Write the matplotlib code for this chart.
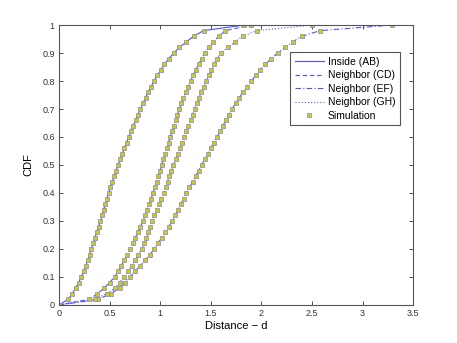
import numpy as np
import matplotlib
matplotlib.use("Agg")
import matplotlib.pyplot as plt

# CDF levels at which simulation quantiles are shown
cdf_levels = [round(0.02 * k, 2) for k in range(51)]

inside_ab = [0.00, 0.09, 0.13, 0.165, 0.195, 0.22, 0.243, 0.264, 0.284, 0.302,
             0.32, 0.338, 0.356, 0.374, 0.392, 0.41, 0.426, 0.442, 0.458, 0.474,
             0.49, 0.508, 0.527, 0.546, 0.565, 0.585, 0.605, 0.626, 0.647, 0.668,
             0.69, 0.712, 0.734, 0.757, 0.781, 0.805, 0.83, 0.856, 0.883, 0.911,
             0.94, 0.972, 1.006, 1.043, 1.085, 1.135, 1.19, 1.26, 1.33, 1.43, 1.83]

neighbor_cd = [0.0, 0.30, 0.38, 0.445, 0.50, 0.55, 0.585, 0.617, 0.647, 0.674,
               0.70, 0.727, 0.754, 0.780, 0.805, 0.83, 0.851, 0.871, 0.891, 0.911,
               0.93, 0.947, 0.964, 0.981, 0.998, 1.015, 1.032, 1.049, 1.066, 1.083,
               1.10, 1.117, 1.135, 1.153, 1.171, 1.19, 1.21, 1.23, 1.252, 1.275,
               1.30, 1.325, 1.352, 1.38, 1.41, 1.44, 1.48, 1.525, 1.58, 1.645, 1.90]

neighbor_ef = [0.0, 0.39, 0.51, 0.60, 0.65, 0.70, 0.752, 0.803, 0.852, 0.90,
               0.94, 0.978, 1.015, 1.05, 1.085, 1.12, 1.148, 1.176, 1.204, 1.232,
               1.26, 1.29, 1.32, 1.35, 1.38, 1.41, 1.44, 1.47, 1.50, 1.53,
               1.56, 1.59, 1.62, 1.65, 1.68, 1.71, 1.745, 1.78, 1.82, 1.86,
               1.90, 1.945, 1.99, 2.04, 2.10, 2.16, 2.235, 2.31, 2.40, 2.58, 3.29]

neighbor_gh = [0.0, 0.355, 0.47, 0.555, 0.60, 0.64, 0.68, 0.717, 0.752, 0.786,
               0.82, 0.843, 0.864, 0.884, 0.90, 0.92, 0.944, 0.967, 0.99, 1.013,
               1.035, 1.054, 1.073, 1.092, 1.111, 1.13, 1.152, 1.174, 1.196, 1.218,
               1.24, 1.26, 1.28, 1.30, 1.32, 1.34, 1.362, 1.384, 1.407, 1.431,
               1.455, 1.48, 1.506, 1.53, 1.56, 1.60, 1.67, 1.74, 1.816, 1.957, 2.50]

labels = ["Inside (AB)", "Neighbor (CD)", "Neighbor (EF)", "Neighbor (GH)"]
xticks = [0, 0.5, 1, 1.5, 2, 2.5, 3, 3.5]
xticklabels = ["0", "0.5", "1", "1.5", "2", "2.5", "3", "3.5"]
yticks = [0, 0.1, 0.2, 0.3, 0.4, 0.5, 0.6, 0.7, 0.8, 0.9, 1.0]
yticklabels = ["0", "0.1", "0.2", "0.3", "0.4", "0.5", "0.6", "0.7", "0.8", "0.9", "1"]

plt.rcParams['font.family'] = ['Liberation Sans', 'DejaVu Sans']

fig = plt.figure(figsize=(4.57, 3.43), dpi=100)
ax = fig.add_axes([0.129, 0.111, 0.775, 0.816])

line_color = '#5050ff'
series = [inside_ab, neighbor_cd, neighbor_ef, neighbor_gh]
styles = ['-', (0, (4, 2.5)), (0, (5, 2, 1, 2)), (0, (1, 1.8))]
for data, lab, ls in zip(series, labels, styles):
    ax.plot(data, cdf_levels, linestyle=ls, color=line_color, lw=0.8, label=lab)

for i, data in enumerate(series):
    ax.plot(data, cdf_levels, linestyle='none', marker='s', markersize=2.2,
            markerfacecolor='#d0d000', markeredgecolor='#8a8ad8', markeredgewidth=0.55,
            label='Simulation' if i == 0 else None)

ax.set_xlim(0, 3.5)
ax.set_ylim(0, 1)
ax.set_xticks(xticks)
ax.set_xticklabels(xticklabels)
ax.set_yticks(yticks)
ax.set_yticklabels(yticklabels)
ax.tick_params(direction='in', length=3, width=0.6, labelsize=6.5, colors='#333333',
               top=True, right=True, pad=3)
for s in ax.spines.values():
    s.set_color('#555555')
    s.set_linewidth(0.8)
ax.set_xlabel("Distance \u2212 d", fontsize=8, labelpad=2)
ax.set_ylabel("CDF", fontsize=8, labelpad=6)

leg = ax.legend(loc='upper right', bbox_to_anchor=(0.977, 0.921), fontsize=7.5,
                fancybox=False, framealpha=1, edgecolor='#555555', borderpad=0.4,
                handlelength=2.8, handletextpad=0.4, labelspacing=0.35)
leg.get_frame().set_linewidth(0.8)
for h in leg.get_lines():
    h.set_color(line_color)

fig.savefig("out.png", dpi=100)
